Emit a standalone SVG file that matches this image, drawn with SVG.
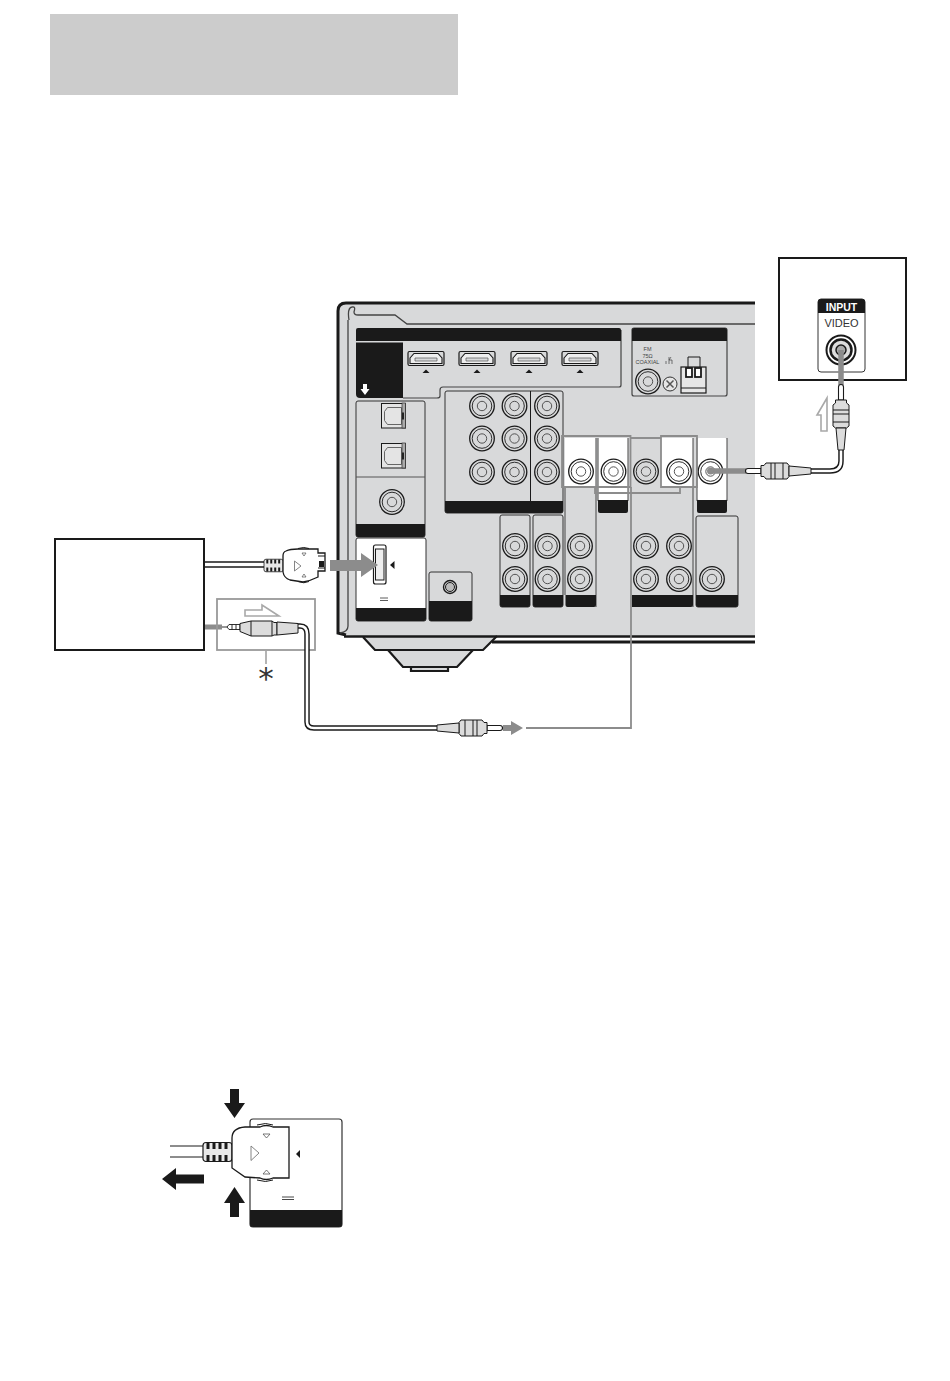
<svg xmlns="http://www.w3.org/2000/svg" width="950" height="1381" viewBox="0 0 950 1381">
<style>
.k{fill:#1a1a1a}
.o{fill:none;stroke:#1a1a1a;stroke-width:1.5}
.t{fill:none;stroke:#1a1a1a;stroke-width:1}
.box{fill:#d8d9da;stroke:#333;stroke-width:1}
.hl{fill:none;stroke:#8c8c8c;stroke-width:1.800}
.g{fill:#8c8c8c}
.ha{fill:#fff;stroke:#a8a8a8;stroke-width:1.600}
.cb{fill:none;stroke:#1a1a1a;stroke-width:5.500}
.ci{fill:none;stroke:#fff;stroke-width:2.600}
.pl{fill:#dcdcdc;stroke:#1a1a1a;stroke-width:1}
.wp{fill:#fff;stroke:#1a1a1a;stroke-width:1.100}
.sm{font-family:"Liberation Sans",Arial,sans-serif;font-size:5.500px;fill:#444;text-anchor:middle}
</style>
<defs>
<g id="jack"><circle r="12.300" fill="none" stroke="#1a1a1a" stroke-width="1.300"/><circle r="9.800" fill="none" stroke="#1a1a1a" stroke-width=".9"/><circle r="4.700" fill="none" stroke="#444" stroke-width=".9"/></g>
<g id="hdmi"><rect x="0" y=".5" width="36" height="14" rx="1.500" fill="#d8d9da" stroke="#1a1a1a" stroke-width="1.200"/><path d="M2 7 L6 2.500 H30 L34 7 V12.500 H2Z" fill="#eee" stroke="#1a1a1a" stroke-width="1.100"/><path d="M7 7 H29 V10 H7Z" fill="#d8d9da" stroke="#555" stroke-width=".7"/><path d="M14.500 22 L18 18.500 L21.500 22Z" fill="#1a1a1a"/></g>
<g id="opt"><rect x="0" y="0" width="24" height="24.500" fill="#e4e4e4" stroke="#1a1a1a" stroke-width="1"/><path d="M3 8 L6 4 H20 V21 H6 L3 17Z" fill="none" stroke="#666" stroke-width="1"/><rect x="20.500" y="-.5" width="3.500" height="25" fill="#aaa" stroke="#333" stroke-width=".7"/><rect x="20.500" y="9" width="2" height="7" fill="#222"/></g>
<g id="rca"><path d="M0 -2.500 H13 V2.500 H0 Q-2.500 2.500 -2.500 0 Q-2.500 -2.500 0 -2.500Z" class="wp"/><path d="M13 -5.500 H16 L18 -8 H39 L41 -5.500 V5.500 L39 8 H18 L16 5.500 H13Z" class="pl"/><path d="M23 -8 V8 M27 -8 V8 M35 -8 V8" class="t"/><path d="M41 -5 L63 -3 V3 L41 5Z" class="pl"/></g>
<g id="strain"><rect x="0" y="-9.500" width="29" height="19" rx="3" fill="#e8e8e8" stroke="#1a1a1a" stroke-width="1.200"/><path d="M5 -9 V-3 M11 -9 V-3 M17 -9 V-3 M23 -9 V-3 M5 3 V9 M11 3 V9 M17 3 V9 M23 3 V9" stroke="#1a1a1a" stroke-width="3" fill="none"/></g>
</defs>
<rect width="950" height="1381" fill="#fff"/>
<rect id="header" x="50" y="14" width="408" height="81" fill="#cccccc"/>

<g id="receiver">
<path d="M755 303 H346 Q338 303 338 311 V634 L363 637 L375 650 H388 L403 667 H411 V672 H448 V667 H457 L473 650 H483 L497 637 H755Z" fill="#d8d9da"/>
<path d="M755 303 H346 Q338 303 338 311 V633 L346 635" fill="none" stroke="#1a1a1a" stroke-width="3"/>
<path d="M349 320 Q347 308 352 307 Q356 306 354 312 Q354 315 358 315 H395 L407 324 H755" fill="none" stroke="#444" stroke-width="1.300"/>
<path d="M348 320 V626 Q348 632 340 633" fill="none" stroke="#444" stroke-width="1.300"/>
<path d="M344 636.500 H755" stroke="#1a1a1a" stroke-width="2.500" fill="none"/>
<path d="M492 642 H755" stroke="#1a1a1a" stroke-width="3" fill="none"/>
<path d="M363 637 L375 650 H483 L497 636 M388 650 L403 667 H457 L473 650 M411 667 V671 H448 V667" fill="none" stroke="#1a1a1a" stroke-width="2.200"/>
</g>

<g id="hdmi-panel">
<path d="M621 330 V385 Q621 387 619 387 H443 Q440 387 440 390 V396 Q440 398 437 398 H403" fill="none" stroke="#444" stroke-width="1.200"/>
<path d="M358 328 H619 Q621 328 621 330 V341 H356 V330 Q356 328 358 328Z" class="k"/>
<path d="M356 342.500 H403 V398 H360 Q356 398 356 394Z" class="k"/>
<path d="M363 384 H367 V389 H369.500 L365 395 L360.500 389 H363Z" fill="#fff"/>
<use href="#hdmi" x="408" y="351"/><use href="#hdmi" x="459" y="351"/><use href="#hdmi" x="511" y="351"/><use href="#hdmi" x="562" y="351"/>
</g>

<g id="antenna-panel">
<rect x="632" y="328" width="95" height="68" rx="2" fill="#d8d9da" stroke="#444" stroke-width="1.200"/>
<path d="M634 328 H725 Q727 328 727 330 V341 H632 V330 Q632 328 634 328Z" class="k"/>
<text class="sm" x="647.500" y="351">FM</text><text class="sm" x="647.500" y="357.500">75Ω</text><text class="sm" x="647.500" y="364">COAXIAL</text>
<path d="M669 357 V364 M666 364 V361 M669 360 H672 V364 M671 357 L669 360" fill="none" stroke="#444" stroke-width=".7"/>
<use href="#jack" x="648" y="381.500"/>
<circle cx="670" cy="384" r="7" fill="#e6e6e6" stroke="#333" stroke-width="1"/><path d="M666.500 380.500 L673.500 387.500 M673.500 380.500 L666.500 387.500" stroke="#555" stroke-width="1.500" fill="none"/>
<path d="M688 367 V357 H700 V367" class="t"/>
<rect x="681" y="367" width="25" height="26" fill="#e6e6e6" stroke="#1a1a1a" stroke-width="1.200"/>
<rect x="686" y="368" width="6" height="9" fill="#fff" stroke="#1a1a1a" stroke-width="1.800"/><rect x="695" y="368" width="6" height="9" fill="#fff" stroke="#1a1a1a" stroke-width="1.800"/>
<path d="M681 388 H706" class="t"/>
</g>

<g id="digital-panel">
<rect x="356" y="401" width="69" height="136" rx="2" class="box"/>
<path d="M356 477 H425" stroke="#555" stroke-width="1"/>
<path d="M356 524 H425 V535 Q425 537 423 537 H358 Q356 537 356 535Z" class="k"/>
<use href="#opt" x="381.500" y="403.500"/><use href="#opt" x="381.500" y="443.500"/>
<use href="#jack" x="392" y="502"/>
</g>

<g id="jacks-main">
<rect x="445" y="391" width="118" height="122" rx="2" class="box"/>
<path d="M530.500 391 V501" stroke="#1a1a1a" stroke-width="1"/>
<path d="M445 501 H563 V511 Q563 513 561 513 H447 Q445 513 445 511Z" class="k"/>
<use href="#jack" x="482" y="406"/><use href="#jack" x="514.500" y="406"/><use href="#jack" x="547" y="406"/>
<use href="#jack" x="482" y="438.500"/><use href="#jack" x="514.500" y="438.500"/><use href="#jack" x="547" y="438.500"/>
<use href="#jack" x="482" y="472"/><use href="#jack" x="514.500" y="472"/><use href="#jack" x="547" y="472"/>
</g>

<g id="jacks-white">
<rect x="565" y="438" width="31" height="49" fill="#fff"/>
<rect x="598" y="438" width="30" height="62" fill="#fff"/>
<rect x="661" y="438" width="32" height="49" fill="#fff"/>
<rect x="697" y="438" width="30" height="62" rx="2" fill="#fff"/>
<path d="M565 487 V595 M596 438 V607 M598 438 V501 M628 438 V501 M631 438 H661 M693 438 V607 M697 438 V501 M727 438 V501" stroke="#444" stroke-width="1" fill="none"/>
<path d="M598 500 H628 V511 Q628 513 626 513 H600 Q598 513 598 511Z" class="k"/>
<path d="M697 500 H727 V511 Q727 513 725 513 H699 Q697 513 697 511Z" class="k"/>
<use href="#jack" x="581" y="471.500"/><use href="#jack" x="613.500" y="471.500"/><use href="#jack" x="646" y="471.500"/><use href="#jack" x="679" y="471.500"/><use href="#jack" x="710.500" y="471.500"/>
</g>

<g id="jacks-lower">
<rect x="500" y="515" width="30" height="92" rx="2" class="box"/>
<rect x="533" y="515" width="30" height="92" rx="2" class="box"/>
<path d="M565.500 595 H596 V605 Q596 607 594 607 H567.500 Q565.500 607 565.500 605Z" class="k"/>
<rect x="696" y="516" width="42" height="91" rx="2" class="box"/>
<path d="M500 595 H530 V605 Q530 607 528 607 H502 Q500 607 500 605Z" class="k"/>
<path d="M533 595 H563 V605 Q563 607 561 607 H535 Q533 607 533 605Z" class="k"/>
<path d="M632 595 H693 V605 Q693 607 691 607 H632Z" class="k"/>
<path d="M696 595 H738 V605 Q738 607 736 607 H698 Q696 607 696 605Z" class="k"/>
<use href="#jack" x="515" y="546"/><use href="#jack" x="547.500" y="546"/><use href="#jack" x="580" y="546"/><use href="#jack" x="646" y="546"/><use href="#jack" x="679" y="546"/>
<use href="#jack" x="515" y="579"/><use href="#jack" x="547.500" y="579"/><use href="#jack" x="580" y="579"/><use href="#jack" x="646" y="579"/><use href="#jack" x="679" y="579"/><use href="#jack" x="712" y="579"/>
</g>

<g id="mini-jack-panel">
<rect x="429" y="572" width="43" height="49" rx="2" class="box"/>
<path d="M429 601 H472 V619 Q472 621 470 621 H431 Q429 621 429 619Z" class="k"/>
<circle cx="450" cy="587" r="6.500" fill="#d8d9da" stroke="#1a1a1a" stroke-width="1.400"/><circle cx="450" cy="587" r="4.500" fill="#bbb" stroke="#1a1a1a" stroke-width="1"/>
</g>

<g id="dock-panel">
<rect x="356" y="538" width="70" height="83" rx="2" fill="#fff" stroke="#333" stroke-width="1"/>
<path d="M356 608 H426 V619 Q426 621 424 621 H358 Q356 621 356 619Z" class="k"/>
<rect x="373.500" y="545" width="12.500" height="39" rx="2" fill="#fff" stroke="#1a1a1a" stroke-width="1.200"/>
<rect x="375.500" y="549" width="8.500" height="31" fill="#eee" stroke="#1a1a1a" stroke-width="1"/>
<path d="M394.500 561 V569 L390 565Z" class="k"/>
<path d="M380 598 H388 M380 600.500 H388" stroke="#333" stroke-width=".8" fill="none"/>
</g>

<g id="source-box">
<rect x="55" y="539" width="149" height="111" fill="#fff" stroke="#1a1a1a" stroke-width="2"/>
</g>

<g id="tv-box">
<rect x="779" y="258" width="127" height="122" fill="#fff" stroke="#1a1a1a" stroke-width="2"/>
<rect x="818" y="299" width="47" height="73" rx="3" fill="#fff" stroke="#333" stroke-width="1"/>
<path d="M821 299 H862 Q865 299 865 302 V313 H818 V302 Q818 299 821 299Z" class="k"/>
<text x="841.500" y="310.500" font-family="Liberation Sans,Arial,sans-serif" font-size="10.500" font-weight="700" fill="#fff" text-anchor="middle">INPUT</text>
<text x="841.500" y="327" font-family="Liberation Sans,Arial,sans-serif" font-size="11" fill="#333" text-anchor="middle">VIDEO</text>
<circle cx="841" cy="350" r="14.500" fill="#fff" stroke="#1a1a1a" stroke-width="2"/><circle cx="841" cy="350" r="10.500" fill="#ddd" stroke="#1a1a1a" stroke-width="2.500"/><circle cx="841" cy="350" r="5" fill="#aaa" stroke="#1a1a1a" stroke-width="1.500"/>
</g>

<g id="connectors">
<path d="M562 436 H630.500 V487 H562Z M661 436 H697 V487 H661Z" class="hl"/>
<path d="M595 487 V493 H680 V487 M631 487 V728 H526" class="hl"/>
<path d="M205 562 H266 M205 567 H266" stroke="#1a1a1a" stroke-width="1.300" fill="none"/>
<path d="M330 560 H361 V553 L378 565 L361 577 V571 H330Z" class="g"/>
<rect x="205" y="624.500" width="17" height="5" class="g"/>
<rect x="217" y="599" width="98" height="51" fill="none" stroke="#999" stroke-width="1.800"/>
<path d="M245 610 H262 V605 L279 616 H245Z" class="ha"/>
<path d="M266 651 V664" stroke="#8c8c8c" stroke-width="1.300" fill="none"/>
<text x="266" y="689" font-family="DejaVu Sans,sans-serif" font-size="31" fill="#333" text-anchor="middle">*</text>
<path d="M296 626 H300 Q307 626 307 634 V722 Q307 728 314 728 H438" class="cb"/>
<path d="M296 626 H300 Q307 626 307 634 V722 Q307 728 314 728 H438" class="ci"/>
<path d="M222 627 H227 L229 624.500 H240 V629.500 H229 L227 627" fill="#fff" stroke="#1a1a1a" stroke-width=".9"/>
<path d="M232 624.500 V629.500 M236 624.500 V629.500" stroke="#1a1a1a" stroke-width=".9"/>
<path d="M240 623.500 L251 621 H272 L274 622.500 H277 V635 H274 L272 636 H251 L240 631.500Z" class="pl"/>
<path d="M251 621 V636 M272 621 V636" stroke="#1a1a1a" stroke-width="1"/>
<path d="M277 622 L298 623.500 V633 L277 635Z" class="pl"/>
<g transform="translate(500 728) scale(-1 1)"><use href="#rca"/></g>
<path d="M503 725 H511 V721 L523 728 L511 735 V731 H503Z" class="g"/>
<path d="M841 350 V385 M710.500 471 H746" stroke="#8c8c8c" stroke-width="5.500" fill="none"/>
<circle cx="710.500" cy="471" r="3.500" fill="#8c8c8c"/>
<path d="M841 447 V461 Q841 471 830 471 H809" class="cb"/>
<path d="M841 447 V461 Q841 471 830 471 H809" class="ci"/>
<g transform="translate(748 471)"><use href="#rca"/></g>
<g transform="translate(841 387) rotate(90)"><use href="#rca"/></g>
<path d="M827 398 L817 415 H821 V431 H827Z" class="ha"/>
</g>

<g id="dock-plug">
<use href="#strain" transform="translate(264 565.500) scale(.66)"/>
<path d="M286 551 Q290 549 298 549 H318 V553 H325 V571 H318 V577 Q310 581 303 582 L290 580 Q284 578 283 572 V556 Q283 552 286 551Z" fill="#fff" stroke="#1a1a1a" stroke-width="1.300"/>
<path d="M298 548.500 Q304 546.500 309 548.500 M298 581.500 Q304 584 309 581.500" stroke="#1a1a1a" stroke-width="1" fill="none"/>
<path d="M318 556 H325 M318 568 H325" stroke="#1a1a1a" stroke-width="1"/><rect x="319" y="561" width="5" height="6" class="k"/>
<path d="M294.500 561 L301 566 L294.500 571Z" fill="#fff" stroke="#777" stroke-width=".9"/>
<path d="M302 553 H306 L304 556Z M302 577 H306 L304 574Z" fill="#fff" stroke="#555" stroke-width=".7"/>
</g>

<g id="release-detail">
<rect x="250" y="1119" width="92" height="108" rx="3" fill="#fff" stroke="#333" stroke-width="1.200"/>
<path d="M250 1210 H342 V1224 Q342 1227 339 1227 H253 Q250 1227 250 1224Z" class="k"/>
<path d="M300 1150 V1158 L296 1154Z" class="k"/>
<path d="M282 1197 H294 M282 1199.500 H294" stroke="#333" stroke-width=".9" fill="none"/>
<path d="M170 1146 H204 M170 1157 H204" stroke="#1a1a1a" stroke-width="1" fill="none"/>
<use href="#strain" x="203" y="1152"/>
<path d="M245 1127 H260 Q266 1124 273 1127 H289 V1178 H273 Q266 1181 260 1178 L245 1177 L232 1168 V1138 Q232 1128 245 1127Z" fill="#fff" stroke="#1a1a1a" stroke-width="1.300"/>
<path d="M257 1125 Q266 1122 273 1125 M257 1180 Q266 1183 273 1180" stroke="#1a1a1a" stroke-width="1" fill="none"/>
<path d="M251 1146 L259 1153 L251 1160.500Z" fill="#fff" stroke="#777" stroke-width=".9"/>
<path d="M263 1134 H270 L266.500 1138Z M263 1174 H270 L266.500 1170Z" fill="#fff" stroke="#555" stroke-width=".8"/>
<path d="M230 1089 H239 V1103 H245 L234.500 1118 L224 1103 H230Z" class="k"/>
<path d="M230 1217 H239 V1203 H245 L234.500 1187 L224 1203 H230Z" class="k"/>
<path d="M204 1174.500 H176 V1168 L162 1179 L176 1190 V1183.500 H204Z" class="k"/>
</g>
</svg>
